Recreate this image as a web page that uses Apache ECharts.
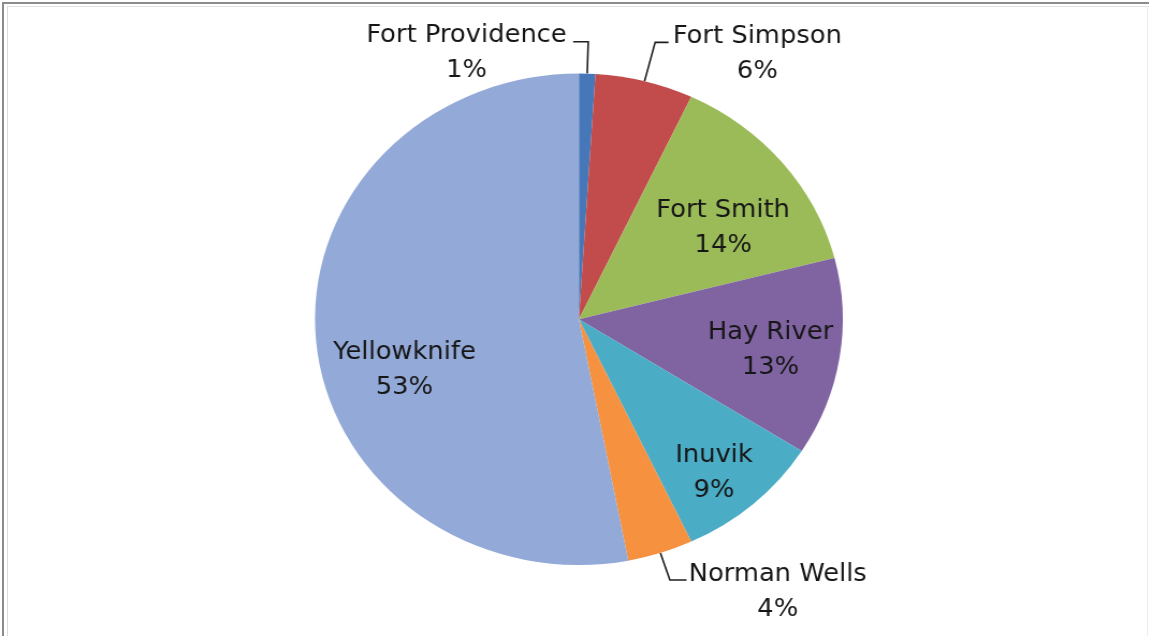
<!DOCTYPE html>
<html>
<head>
<meta charset="utf-8">
<title>Share by community</title>
<script src="https://cdn.jsdelivr.net/npm/echarts@6/dist/echarts.min.js"></script>
<style>
  html, body { margin: 0; padding: 0; background: #fff; overflow: hidden; }
  #frame { position: relative; width: 1149px; height: 636px; overflow: hidden; background: #fff; }
  /* the pie is drawn slightly wider than tall */
  #chart { position: absolute; left: 0; top: 0; width: 1070px; height: 636px;
           transform: scaleX(1.0736); transform-origin: 0 0; }
  .edge { position: absolute; }
</style>
</head>
<body>
<div id="frame">
  <div id="chart"></div>
  <div class="edge" style="left:2px;top:2px;width:2px;height:634px;background:#8c8c8c"></div>
  <div class="edge" style="left:2px;top:2px;width:1147px;height:2px;background:#8c8c8c"></div>
  <div class="edge" style="left:7px;top:6px;width:1px;height:630px;background:#dcdcdc"></div>
  <div class="edge" style="left:7px;top:6px;width:1142px;height:1px;background:#e2e2e2"></div>
  <div class="edge" style="left:1147px;top:6px;width:1px;height:630px;background:#ececec"></div>
</div>
<script>
// Communities and their share (percent)
const towns = ['Fort Providence', 'Fort Simpson', 'Fort Smith', 'Hay River', 'Inuvik', 'Norman Wells', 'Yellowknife'];
const shares = [1, 6, 14, 13, 9, 4, 53];
const sliceColors = ['#4677B8', '#C24C4B', '#9BBB59', '#8064A2', '#4BACC6', '#F5913F', '#93A9D7'];

// Pie geometry (chart pixels, before the horizontal stretch)
const CX = 539.2, CY = 319.2, R = 245.8;

// Labels drawn inside their slice: [angle shift from slice middle (deg), fraction of radius]
const insideLabel = { 2: [5.5, 0.66], 3: [0.9, 0.737], 4: [2.2, 0.81], 6: [-12.1, 0.693] };
// Labels drawn outside with a leader line: radial length, horizontal run (sign = side), text gap
const outsideLabel = {
  0: { len: 31.8, run: -14.1, gap: 6 },
  1: { len: 40, run: 12.4, gap: 4 },
  5: { len: 28.4, run: 15.5, gap: 2 }
};

const total = shares.reduce((a, b) => a + b, 0);
const midAngle = [];
let acc = 0;
shares.forEach(v => { midAngle.push((acc + v / 2) / total * 360); acc += v; });

// angle measured clockwise from 12 o'clock
function polar(angDeg, dist) {
  const a = angDeg * Math.PI / 180;
  return [CX + dist * Math.sin(a), CY - dist * Math.cos(a)];
}

const chart = echarts.init(document.getElementById('chart'), null, { renderer: 'canvas' });

chart.setOption({
  animation: false,
  backgroundColor: 'transparent',
  series: [{
    type: 'pie',
    center: [CX, CY],
    radius: R,
    startAngle: 90,
    clockwise: true,
    percentPrecision: 0,
    avoidLabelOverlap: false,
    silent: true,
    itemStyle: { borderWidth: 0 },
    label: {
      formatter: '{b}\n{d}%',
      fontFamily: 'DejaVu Sans',
      fontSize: 24,
      lineHeight: 35,
      color: '#161616'
    },
    labelLine: {
      length: 20,
      length2: 10,
      smooth: false,
      lineStyle: { color: '#1e1e1e', width: 1.6 }
    },
    labelLayout: function (p) {
      const i = p.dataIndex;
      if (insideLabel[i]) {
        const [shift, frac] = insideLabel[i];
        const pt = polar(midAngle[i] + shift, frac * R);
        return { x: pt[0], y: pt[1], align: 'center', verticalAlign: 'middle' };
      }
      const o = outsideLabel[i];
      const p0 = polar(midAngle[i], R);
      const p1 = polar(midAngle[i], R + o.len);
      const p2 = [p1[0] + o.run, p1[1]];
      const dir = Math.sign(o.run);
      return {
        x: p2[0] + dir * (o.gap + p.labelRect.width / 2),
        y: p2[1] + 12,
        align: 'center',
        verticalAlign: 'middle',
        labelLinePoints: [p0, p1, p2]
      };
    },
    data: towns.map((name, i) => ({
      name: name,
      value: shares[i],
      itemStyle: { color: sliceColors[i] },
      label: { position: insideLabel[i] ? 'inside' : 'outside' },
      labelLine: { show: !insideLabel[i] }
    }))
  }]
});
</script>
</body>
</html>
